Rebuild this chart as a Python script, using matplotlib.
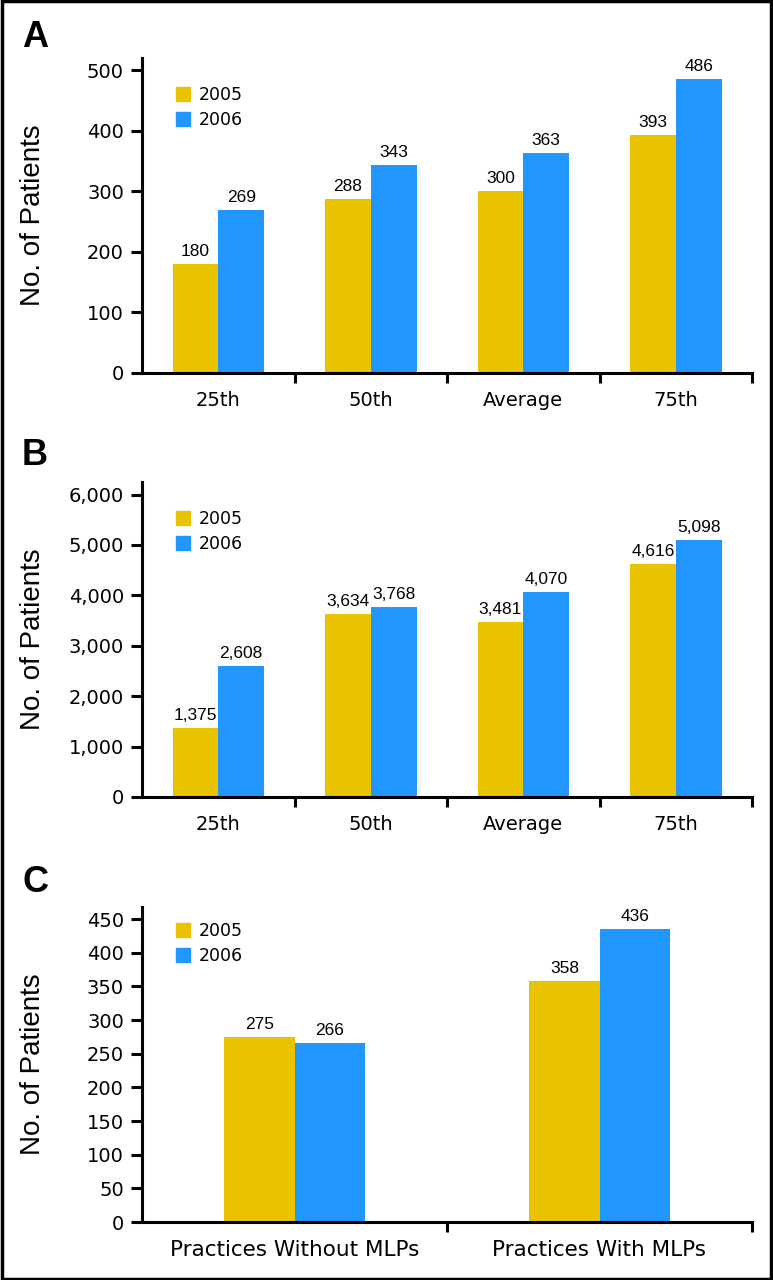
import numpy as np
import matplotlib.pyplot as plt
from matplotlib.patches import Patch, Rectangle
from matplotlib.ticker import FuncFormatter

# data
years = ["2005", "2006"]
pct_cats = ["25th", "50th", "Average", "75th"]
a_2005 = [180, 288, 300, 393]
a_2006 = [269, 343, 363, 486]
b_2005 = [1375, 3634, 3481, 4616]
b_2006 = [2608, 3768, 4070, 5098]
c_cats = ["Practices Without MLPs", "Practices With MLPs"]
c_2005 = [275, 358]
c_2006 = [266, 436]

yellow = "#E9C300"
blue = "#2196FE"

W, H = 773, 1280
fig = plt.figure(figsize=(W / 100, H / 100), dpi=100)

def px_axes(top, bottom):
    return fig.add_axes([142 / W, 1 - bottom / H, 610 / W, (bottom - top) / H])

def plain(v):
    return f"{int(v):,}"

def panel(ax, cats, v05, v06, ymax, yticks, width, lab_size, leg_y):
    x = np.arange(len(cats))
    b1 = ax.bar(x - width / 2, v05, width, color=yellow)
    b2 = ax.bar(x + width / 2, v06, width, color=blue)
    for bars, vals in ((b1, v05), (b2, v06)):
        for r, v in zip(bars, vals):
            ax.annotate(plain(v), (r.get_x() + r.get_width() / 2, v),
                        xytext=(0, 3.5), textcoords="offset points",
                        ha="center", va="bottom", fontsize=12.5, family="Liberation Sans")
    ax.set_xlim(-0.5, len(cats) - 0.5)
    ax.set_ylim(0, ymax)
    ax.set_yticks(yticks)
    ax.yaxis.set_major_formatter(FuncFormatter(lambda v, p: plain(v)))
    ax.set_xticks(x)
    ax.set_xticklabels(cats, fontsize=lab_size)
    ax.set_xticks(x + 0.5, minor=True)
    ax.tick_params(axis="x", which="major", length=0, pad=13)
    ax.tick_params(axis="x", which="minor", length=7, width=2.2, direction="out")
    ax.tick_params(axis="y", length=8, width=2.2, pad=5, labelsize=14)
    for s in ("top", "right"):
        ax.spines[s].set_visible(False)
    for s in ("left", "bottom"):
        ax.spines[s].set_linewidth(2.2)
    handles = [Patch(color=yellow, label=years[0]), Patch(color=blue, label=years[1])]
    ax.legend(handles=handles, loc="upper left", bbox_to_anchor=(0.055, leg_y),
              frameon=False, fontsize=12.5, handlelength=0.85, handleheight=0.85,
              handletextpad=0.5, labelspacing=0.42, borderpad=0, borderaxespad=0)

axA = px_axes(58, 373)
panel(axA, pct_cats, a_2005, a_2006, 520, np.arange(0, 501, 100), 0.3, 14, 0.912)
axB = px_axes(482, 797)
panel(axB, pct_cats, b_2005, b_2006, 6250, np.arange(0, 6001, 1000), 0.3, 14, 0.912)
axC = px_axes(907, 1222)
panel(axC, c_cats, c_2005, c_2006, 468, np.arange(0, 451, 50), 0.23, 15.5, 0.952)

for letter, base, ax in (("A", 47, axA), ("B", 465, axB), ("C", 892, axC)):
    fig.text(22 / W, 1 - base / H, letter, fontsize=26, fontweight="bold",
             family="Liberation Sans", va="baseline", ha="left")
    bb = ax.get_position()
    fig.text(33 / W, bb.y0 + bb.height / 2, "No. of Patients", rotation=90,
             fontsize=20, family="Liberation Sans", ha="center", va="center")

fig.patches.append(Rectangle((0.002, 0.001), 0.996, 0.998, transform=fig.transFigure,
                             fill=False, edgecolor="black", linewidth=2.5))

fig.savefig("out.png", dpi=100)
